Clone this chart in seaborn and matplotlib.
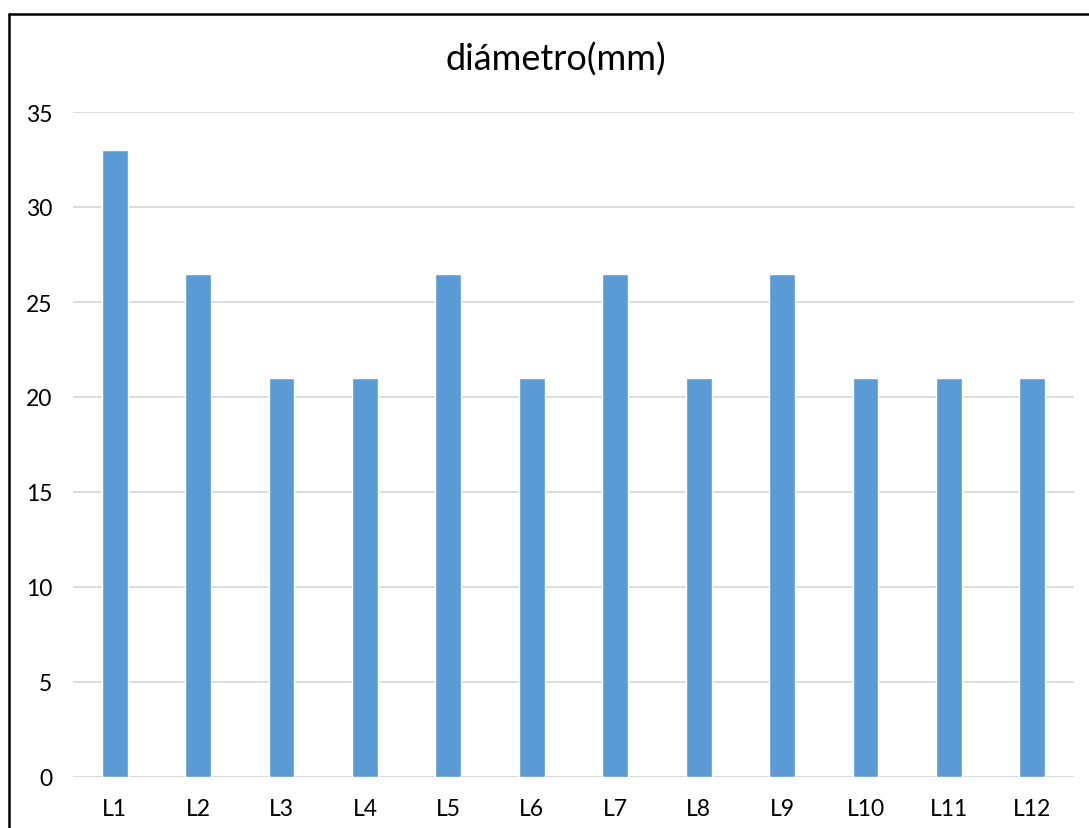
import matplotlib
matplotlib.use("Agg")
import matplotlib.pyplot as plt
from matplotlib.lines import Line2D
import seaborn as sns
import pandas as pd

# values
categorias = ['L1', 'L2', 'L3', 'L4', 'L5', 'L6', 'L7', 'L8', 'L9', 'L10', 'L11', 'L12']
diametro = [33, 26.5, 21, 21, 26.5, 21, 26.5, 21, 26.5, 21, 21, 21]
yticks = [0, 5, 10, 15, 20, 25, 30, 35]

df = pd.DataFrame({'lote': categorias, 'diametro': diametro})

sns.set_theme(style='white')
plt.rcParams['font.family'] = ['Lato', 'DejaVu Sans']

W, H = 1089, 829
fig = plt.figure(figsize=(W / 100, H / 100), dpi=100)
ax = fig.add_axes([73 / W, 51 / H, (1074 - 73) / W, (778 - 113) / H])

sns.barplot(data=df, x='lote', y='diametro', color='#5B9BD5', width=0.31,
            saturation=1, ax=ax)

ax.set_ylim(0, 35)
ax.set_xlim(-0.5, len(categorias) - 0.5)
ax.set_yticks(yticks)
ax.yaxis.grid(True, color='#D9D9D9', linewidth=1.3)
ax.set_axisbelow(True)
for s in ax.spines.values():
    s.set_visible(False)
ax.axhline(0, color='#D9D9D9', linewidth=1.3, zorder=0)
ax.tick_params(axis='both', length=0, labelsize=16.5, colors='#000000')
ax.tick_params(axis='y', pad=15)
ax.tick_params(axis='x', pad=15)
ax.set_xlabel('')
ax.set_ylabel('')

fig.text(556 / W, 1 - 60 / H, 'diámetro(mm)', ha='center', va='center',
         fontsize=26, color='#000000')

# chart frame (only left and top edges are visible in the crop)
fig.add_artist(Line2D([8.5 / W, 8.5 / W], [0, 1 - 14.5 / H], color='black', linewidth=1.8))
fig.add_artist(Line2D([8.5 / W, 1], [1 - 14.5 / H, 1 - 14.5 / H], color='black', linewidth=1.8))

fig.savefig('out.png', dpi=100)
